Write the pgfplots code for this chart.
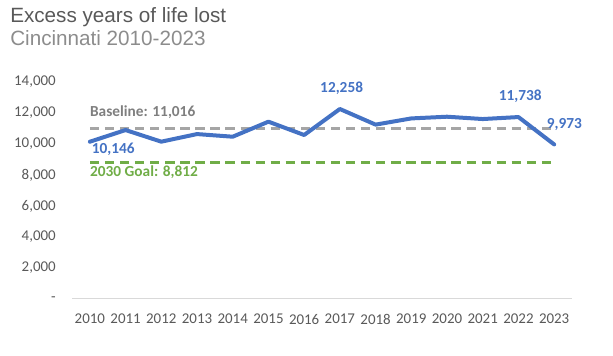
\documentclass[border=0pt]{standalone}
\usepackage{pgfplots}
\pgfplotsset{compat=1.18}
\usepackage{fontspec}
\setmainfont{Carlito}[Numbers={Lining,Monospaced}]
\newfontfamily\arialf{Liberation Sans}
\definecolor{tickc}{HTML}{595959}
\definecolor{subc}{HTML}{8C8C8C}
\definecolor{blu}{HTML}{4472C4}
\definecolor{gry}{HTML}{A5A5A5}
\definecolor{grn}{HTML}{70AD47}
\definecolor{glab}{HTML}{7F7F7F}
\definecolor{linec}{HTML}{D9D9D9}
\begin{document}
\begin{tikzpicture}
\useasboundingbox (0pt,0pt) rectangle (459.75pt,267pt);
\node[anchor=base west, inner sep=0pt, font=\arialf\fontsize{15.5}{18}\selectfont, text=tickc] at (7.5pt,250pt) {Excess years of life lost};
\node[anchor=base west, inner sep=0pt, font=\arialf\fontsize{15.5}{18}\selectfont, text=subc] at (7.5pt,233pt) {Cincinnati 2010-2023};
\begin{axis}[
  at={(54pt,42.75pt)}, anchor=south west,
  scale only axis, width=375pt, height=162.75pt,
  xmin=2009.5, xmax=2023.5, ymin=0, ymax=14000,
  scaled y ticks=false, scaled x ticks=false,
  xtick={2010,2011,2012,2013,2014,2015,2016,2017,2018,2019,2020,2021,2022,2023},
  xticklabels={2010,2011,2012,2013,2014,2015,2016,2017,2018,2019,2020,2021,2022,2023},
  ytick={0,2000,4000,6000,8000,10000,12000,14000},
  yticklabels={{-},{2,000},{4,000},{6,000},{8,000},{10,000},{12,000},{14,000}},
  axis x line*=bottom, axis y line*=left,
  x axis line style={draw=linec, line width=0.75pt, -},
  y axis line style={draw=none},
  major tick length=0pt,
  tick label style={font=\fontsize{11.2}{13}\selectfont, text=tickc, inner sep=0pt},
  xticklabel shift=11pt, yticklabel shift=12pt,
  clip=false,
]
\addplot[gry, line width=2.6pt, dash pattern=on 7pt off 4.3pt] coordinates {(2010,11016)(2023,11016)};
\addplot[grn, line width=2.6pt, dash pattern=on 7pt off 4.3pt] coordinates {(2010,8812)(2023,8812)};
\addplot[blu, line width=3pt, line join=round, line cap=round] coordinates {
(2010,10146)(2011,10900)(2012,10150)(2013,10640)(2014,10470)(2015,11440)(2016,10580)
(2017,12258)(2018,11250)(2019,11650)(2020,11760)(2021,11610)(2022,11738)(2023,9973)};
\node[anchor=base west, inner sep=0pt, font=\bfseries\fontsize{11.5}{13}\selectfont, text=glab] at (axis cs:2010.0,11760) {Baseline: 11,016};
\node[anchor=base west, inner sep=0pt, font=\bfseries\fontsize{11.5}{13}\selectfont, text=grn] at (axis cs:2010.0,7890) {2030 Goal: 8,812};
\node[anchor=base west, inner sep=0pt, font=\bfseries\fontsize{11.5}{13}\selectfont, text=blu] at (axis cs:2010.05,9355) {10,146};
\node[anchor=base, inner sep=0pt, font=\bfseries\fontsize{11.5}{13}\selectfont, text=blu] at (axis cs:2017.05,13310) {12,258};
\node[anchor=base, inner sep=0pt, font=\bfseries\fontsize{11.5}{13}\selectfont, text=blu] at (axis cs:2022.05,12794) {11,738};
\node[anchor=base west, inner sep=0pt, font=\bfseries\fontsize{11.5}{13}\selectfont, text=blu] at (axis cs:2022.79,11013) {9,973};
\end{axis}
\end{tikzpicture}
\end{document}
